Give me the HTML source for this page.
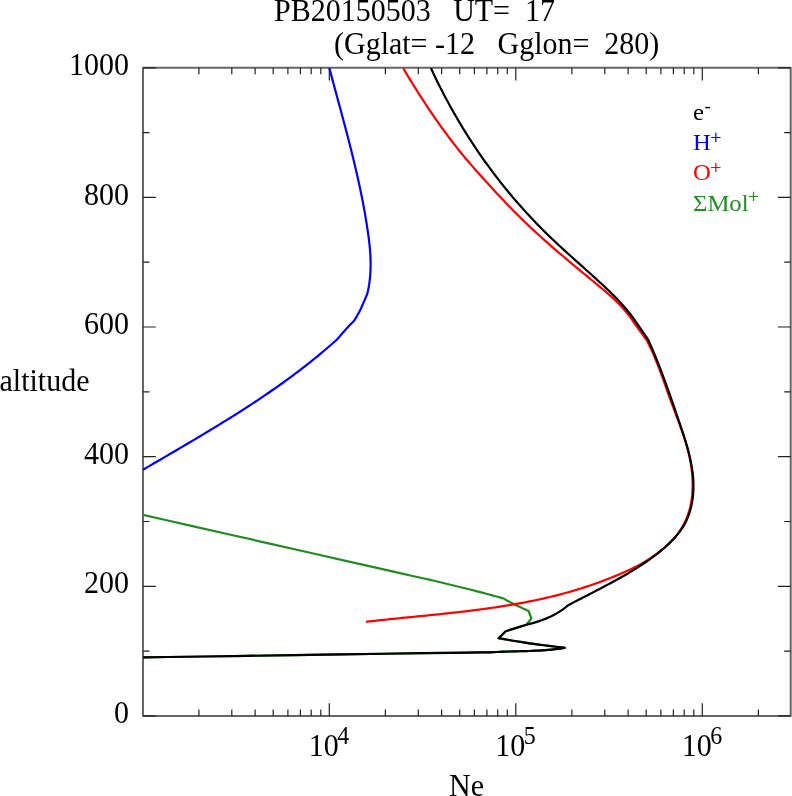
<!DOCTYPE html>
<html><head><meta charset="utf-8"><style>
html,body{margin:0;padding:0;background:#fff;overflow:hidden}
svg{display:block;will-change:transform}
text{font-family:"Liberation Serif",serif;font-size:30px;fill:#000}
</style></head><body>
<svg width="792" height="796" viewBox="0 0 792 796">
<rect width="792" height="796" fill="#fff"/>
<path d="M143.0 715.9 V67.8 H790.7 V715.9 Z" stroke="#666" stroke-width="2" fill="none" stroke-linejoin="round"/>
<path d="M143.0 715.9h12.8 M790.7 715.9h-12.8 M143.0 651.1h6.5 M790.7 651.1h-6.5 M143.0 586.3h12.8 M790.7 586.3h-12.8 M143.0 521.5h6.5 M790.7 521.5h-6.5 M143.0 456.7h12.8 M790.7 456.7h-12.8 M143.0 391.8h6.5 M790.7 391.8h-6.5 M143.0 327.0h12.8 M790.7 327.0h-12.8 M143.0 262.2h6.5 M790.7 262.2h-6.5 M143.0 197.4h12.8 M790.7 197.4h-12.8 M143.0 132.6h6.5 M790.7 132.6h-6.5 M143.0 67.8h12.8 M790.7 67.8h-12.8 M198.9 715.9v-6.5 M198.9 67.8v6.5 M231.8 715.9v-6.5 M231.8 67.8v6.5 M255.1 715.9v-6.5 M255.1 67.8v6.5 M273.2 715.9v-6.5 M273.2 67.8v6.5 M287.9 715.9v-6.5 M287.9 67.8v6.5 M300.4 715.9v-6.5 M300.4 67.8v6.5 M311.2 715.9v-6.5 M311.2 67.8v6.5 M320.8 715.9v-6.5 M320.8 67.8v6.5 M329.3 715.9v-12.7 M329.3 67.8v12.7 M385.4 715.9v-6.5 M385.4 67.8v6.5 M418.3 715.9v-6.5 M418.3 67.8v6.5 M441.6 715.9v-6.5 M441.6 67.8v6.5 M459.7 715.9v-6.5 M459.7 67.8v6.5 M474.4 715.9v-6.5 M474.4 67.8v6.5 M486.9 715.9v-6.5 M486.9 67.8v6.5 M497.7 715.9v-6.5 M497.7 67.8v6.5 M507.3 715.9v-6.5 M507.3 67.8v6.5 M515.8 715.9v-12.7 M515.8 67.8v12.7 M571.9 715.9v-6.5 M571.9 67.8v6.5 M604.8 715.9v-6.5 M604.8 67.8v6.5 M628.1 715.9v-6.5 M628.1 67.8v6.5 M646.2 715.9v-6.5 M646.2 67.8v6.5 M660.9 715.9v-6.5 M660.9 67.8v6.5 M673.4 715.9v-6.5 M673.4 67.8v6.5 M684.2 715.9v-6.5 M684.2 67.8v6.5 M693.8 715.9v-6.5 M693.8 67.8v6.5 M702.3 715.9v-12.7 M702.3 67.8v12.7 M758.4 715.9v-6.5 M758.4 67.8v6.5" stroke="#222" stroke-width="1.2" fill="none"/>
<path d="M143.10 514.90 L164.47 519.74 L194.58 526.56 L230.59 534.73 L269.68 543.58 L308.99 552.49 L345.71 560.81 L376.99 567.89 L400.00 573.10 L414.81 576.45 L424.16 578.55 L429.19 579.68 L431.06 580.09 L430.92 580.04 L429.93 579.80 L429.24 579.64 L430.00 579.80 L433.08 580.53 L436.16 581.26 L439.24 581.99 L442.31 582.73 L445.39 583.47 L448.47 584.21 L451.54 584.96 L454.62 585.71 L457.69 586.46 L460.76 587.22 L463.83 587.98 L466.90 588.75 L469.97 589.52 L473.04 590.30 L476.10 591.09 L479.17 591.88 L482.23 592.68 L485.29 593.49 L488.34 594.30 L491.40 595.13 L494.45 595.96 L497.50 596.80 L500.55 597.64 L503.60 598.50 L504.26 598.88 L505.08 599.36 L506.05 599.94 L507.16 600.59 L508.39 601.29 L509.73 602.04 L511.17 602.82 L512.70 603.60 L514.47 604.47 L516.57 605.46 L518.86 606.53 L521.22 607.62 L523.50 608.67 L525.58 609.62 L527.33 610.41 L528.60 611.00 L531.40 618.50 L526.40 624.70 L505.70 631.20 L498.60 638.20 L500.95 638.60 L504.03 639.13 L507.70 639.77 L511.79 640.47 L516.17 641.21 L520.66 641.95 L525.12 642.66 L529.40 643.30 L533.84 643.92 L538.74 644.57 L543.86 645.23 L548.97 645.87 L553.85 646.47 L558.25 647.01 L561.95 647.46 L564.70 647.80 L561.48 648.33 L558.25 648.79 L555.02 649.20 L551.78 649.56 L548.54 649.87 L545.30 650.14 L542.05 650.36 L538.80 650.56 L535.55 650.72 L532.30 650.86 L529.05 650.98 L525.79 651.08 L522.54 651.17 L519.28 651.25 L516.03 651.33 L512.77 651.41 L509.51 651.50 L506.26 651.60 L503.00 651.71 L499.75 651.84 L496.50 652.00 L493.25 652.18 L490.00 652.40 L488.74 652.40 L489.07 652.37 L489.66 652.34 L489.18 652.31 L486.31 652.32 L479.70 652.40 L468.05 652.55 L450.00 652.80 L422.31 653.21 L384.85 653.76 L340.97 654.42 L294.05 655.12 L247.44 655.83 L204.50 656.48 L168.60 657.02 L143.10 657.40" stroke="#228b22" stroke-width="2.2" fill="none" stroke-linejoin="round"/>
<path d="M329.40 68.20 L330.19 71.17 L330.98 74.15 L331.77 77.12 L332.57 80.09 L333.37 83.06 L334.17 86.03 L334.97 89.00 L335.77 91.97 L336.58 94.95 L337.38 97.92 L338.19 100.89 L338.99 103.86 L339.80 106.83 L340.60 109.80 L341.40 112.77 L342.20 115.75 L343.00 118.72 L343.79 121.70 L344.58 124.67 L345.37 127.65 L346.16 130.62 L346.94 133.60 L347.71 136.58 L348.49 139.56 L349.25 142.54 L350.01 145.52 L350.77 148.50 L351.52 151.49 L352.26 154.48 L352.99 157.46 L353.72 160.45 L354.44 163.45 L355.15 166.44 L355.85 169.43 L356.55 172.43 L357.23 175.43 L357.91 178.43 L358.57 181.44 L359.23 184.44 L359.87 187.45 L360.50 190.46 L361.12 193.47 L361.73 196.49 L362.33 199.51 L362.91 202.53 L363.49 205.55 L364.04 208.58 L364.59 211.61 L365.12 214.64 L365.63 217.68 L366.14 220.71 L366.63 223.75 L367.10 226.80 L367.56 229.84 L368.01 232.88 L368.44 235.93 L368.84 238.98 L369.22 242.03 L369.55 245.09 L369.85 248.15 L370.10 251.22 L370.31 254.28 L370.46 257.36 L370.56 260.43 L370.61 263.50 L370.60 266.58 L370.52 269.65 L370.38 272.72 L370.16 275.79 L369.88 278.85 L369.51 281.91 L369.06 284.95 L368.53 287.98 L367.91 291.00 L367.20 294.00 L366.65 295.27 L365.92 297.00 L365.04 299.07 L364.07 301.34 L363.05 303.70 L362.04 306.01 L361.07 308.15 L360.20 310.00 L359.37 311.65 L358.51 313.26 L357.65 314.80 L356.81 316.25 L356.03 317.57 L355.33 318.74 L354.75 319.73 L354.30 320.50 L353.61 321.21 L352.70 322.15 L351.60 323.28 L350.39 324.53 L349.12 325.85 L347.84 327.18 L346.62 328.49 L345.50 329.70 L344.42 330.91 L343.28 332.22 L342.12 333.55 L341.00 334.87 L339.94 336.12 L339.00 337.25 L338.20 338.19 L337.60 338.90 L335.33 340.95 L333.05 342.98 L330.75 345.00 L328.45 347.00 L326.14 348.99 L323.81 350.97 L321.48 352.93 L319.14 354.88 L316.78 356.82 L314.42 358.75 L312.05 360.66 L309.67 362.56 L307.28 364.45 L304.88 366.33 L302.47 368.20 L300.06 370.05 L297.63 371.90 L295.20 373.73 L292.76 375.55 L290.31 377.37 L287.86 379.17 L285.40 380.96 L282.92 382.74 L280.45 384.51 L277.96 386.28 L275.47 388.03 L272.97 389.77 L270.47 391.51 L267.96 393.23 L265.44 394.95 L262.92 396.66 L260.39 398.36 L257.85 400.06 L255.31 401.74 L252.76 403.42 L250.21 405.09 L247.66 406.75 L245.10 408.41 L242.53 410.06 L239.96 411.70 L237.38 413.34 L234.81 414.97 L232.22 416.60 L229.63 418.22 L227.04 419.83 L224.45 421.44 L221.85 423.04 L219.25 424.64 L216.64 426.23 L214.04 427.82 L211.43 429.40 L208.81 430.98 L206.20 432.56 L203.58 434.13 L200.96 435.70 L198.34 437.27 L195.71 438.83 L193.09 440.39 L190.46 441.94 L187.83 443.50 L185.20 445.05 L182.57 446.60 L179.94 448.14 L177.31 449.69 L174.68 451.23 L172.04 452.77 L169.41 454.32 L166.78 455.86 L164.14 457.39 L161.51 458.93 L158.88 460.47 L156.25 462.01 L153.61 463.55 L150.98 465.08 L148.35 466.62 L145.73 468.16 L143.10 469.70" stroke="#0000ff" stroke-width="2.2" fill="none" stroke-linejoin="round"/>
<path d="M403.20 68.20 L404.75 70.80 L406.31 73.40 L407.87 76.00 L409.45 78.59 L411.03 81.18 L412.62 83.76 L414.23 86.34 L415.84 88.92 L417.46 91.49 L419.09 94.05 L420.73 96.61 L422.37 99.16 L424.03 101.71 L425.70 104.25 L427.38 106.78 L429.07 109.31 L430.77 111.83 L432.48 114.34 L434.20 116.84 L435.93 119.34 L437.67 121.83 L439.43 124.31 L441.19 126.78 L442.97 129.24 L444.76 131.69 L446.56 134.13 L448.37 136.56 L450.19 138.99 L452.03 141.40 L453.88 143.80 L455.74 146.19 L457.61 148.57 L459.50 150.94 L461.40 153.29 L463.32 155.63 L465.26 157.96 L467.21 160.27 L469.18 162.57 L471.17 164.85 L473.17 167.13 L475.18 169.40 L477.19 171.66 L479.22 173.91 L481.25 176.17 L483.28 178.42 L485.31 180.68 L487.35 182.93 L489.39 185.18 L491.43 187.42 L493.48 189.66 L495.54 191.90 L497.60 194.13 L499.67 196.35 L501.75 198.57 L503.83 200.78 L505.93 202.98 L508.03 205.17 L510.14 207.35 L512.26 209.53 L514.39 211.69 L516.53 213.84 L518.68 215.98 L520.84 218.11 L523.02 220.23 L525.20 222.33 L527.40 224.43 L529.60 226.51 L531.82 228.58 L534.04 230.64 L536.27 232.70 L538.51 234.74 L540.76 236.78 L543.02 238.81 L545.29 240.82 L547.56 242.84 L549.84 244.84 L552.12 246.84 L554.41 248.82 L556.71 250.81 L559.02 252.79 L561.32 254.76 L563.64 256.72 L565.96 258.68 L568.28 260.64 L570.60 262.59 L572.93 264.54 L575.27 266.48 L577.60 268.42 L579.94 270.36 L582.28 272.30 L584.63 274.23 L586.97 276.16 L589.32 278.09 L591.67 280.02 L594.01 281.95 L596.36 283.87 L598.70 285.80 L601.04 287.74 L603.37 289.69 L605.68 291.66 L607.97 293.64 L610.23 295.65 L612.47 297.69 L614.68 299.76 L616.85 301.87 L618.99 304.01 L621.08 306.20 L623.12 308.44 L625.12 310.73 L627.05 313.08 L628.93 315.49 L630.75 317.96 L632.50 320.50 L646.60 340.00 L648.00 342.70 L649.35 345.42 L650.65 348.16 L651.92 350.90 L653.15 353.67 L654.34 356.44 L655.50 359.22 L656.63 362.02 L657.74 364.82 L658.82 367.64 L659.88 370.46 L660.93 373.28 L661.96 376.12 L662.98 378.95 L664.00 381.80 L665.00 384.64 L666.01 387.49 L667.02 390.33 L668.03 393.18 L669.05 396.02 L670.09 398.87 L671.13 401.71 L672.19 404.54 L673.25 407.38 L674.33 410.22 L675.40 413.05 L676.47 415.89 L677.54 418.73 L678.60 421.57 L679.65 424.41 L680.68 427.26 L681.69 430.12 L682.68 432.98 L683.64 435.85 L684.58 438.73 L685.48 441.62 L686.34 444.53 L687.17 447.44 L687.95 450.36 L688.68 453.30 L689.36 456.26 L689.98 459.23 L690.55 462.21 L691.06 465.22 L691.50 468.24 L691.87 471.28 L692.18 474.32 L692.41 477.38 L692.56 480.43 L692.64 483.49 L692.63 486.54 L692.54 489.58 L692.36 492.62 L692.10 495.63 L691.74 498.63 L691.28 501.60 L690.73 504.54 L690.08 507.46 L689.32 510.34 L688.46 513.18 L687.49 515.98 L686.40 518.73 L685.21 521.43 L683.89 524.08 L682.46 526.67 L680.91 529.20 L679.26 531.67 L677.50 534.09 L675.65 536.44 L673.70 538.72 L671.68 540.95 L669.58 543.11 L667.40 545.21 L665.17 547.24 L662.88 549.21 L660.53 551.12 L658.13 552.96 L655.68 554.75 L653.18 556.49 L650.64 558.17 L648.05 559.80 L645.43 561.38 L642.78 562.91 L640.09 564.40 L637.38 565.85 L634.64 567.25 L631.87 568.62 L629.09 569.95 L626.29 571.24 L623.47 572.51 L620.65 573.74 L617.82 574.94 L614.98 576.12 L612.14 577.28 L609.30 578.41 L606.45 579.52 L603.61 580.60 L600.76 581.67 L597.91 582.71 L595.05 583.72 L592.20 584.72 L589.34 585.69 L586.47 586.65 L583.61 587.58 L580.74 588.49 L577.86 589.38 L574.99 590.25 L572.11 591.11 L569.22 591.94 L566.33 592.75 L563.44 593.54 L560.54 594.32 L557.64 595.08 L554.73 595.81 L551.81 596.54 L548.90 597.24 L545.97 597.93 L543.04 598.59 L540.11 599.25 L537.17 599.88 L534.23 600.51 L531.28 601.11 L528.32 601.70 L525.36 602.28 L522.40 602.84 L519.43 603.39 L516.46 603.92 L513.49 604.44 L510.51 604.95 L507.53 605.45 L504.54 605.93 L501.55 606.40 L498.56 606.86 L495.56 607.31 L492.56 607.75 L489.56 608.18 L486.56 608.60 L483.55 609.01 L480.55 609.42 L477.54 609.81 L474.52 610.19 L471.51 610.57 L468.49 610.94 L465.48 611.30 L462.46 611.66 L459.44 612.01 L456.42 612.35 L453.40 612.69 L450.37 613.02 L447.35 613.35 L444.33 613.68 L441.31 614.00 L438.28 614.31 L435.26 614.63 L432.24 614.94 L429.21 615.24 L426.19 615.55 L423.17 615.85 L420.15 616.16 L417.13 616.46 L414.11 616.76 L411.09 617.06 L408.08 617.36 L405.07 617.66 L402.05 617.96 L399.04 618.27 L396.03 618.57 L393.03 618.88 L390.02 619.19 L387.02 619.50 L384.03 619.82 L381.03 620.14 L378.04 620.46 L375.05 620.79 L372.06 621.12 L369.08 621.46 L366.10 621.80" stroke="#ff0000" stroke-width="2.2" fill="none" stroke-linejoin="round"/>
<path d="M431.00 68.20 L432.27 70.96 L433.56 73.71 L434.86 76.45 L436.18 79.19 L437.51 81.92 L438.86 84.65 L440.22 87.37 L441.60 90.08 L442.99 92.78 L444.39 95.48 L445.81 98.17 L447.24 100.85 L448.69 103.52 L450.15 106.19 L451.63 108.85 L453.12 111.50 L454.63 114.14 L456.15 116.78 L457.68 119.41 L459.23 122.03 L460.79 124.64 L462.36 127.24 L463.95 129.83 L465.56 132.42 L467.18 135.00 L468.81 137.56 L470.45 140.12 L472.11 142.68 L473.79 145.22 L475.47 147.75 L477.17 150.27 L478.89 152.79 L480.62 155.29 L482.36 157.79 L484.11 160.28 L485.88 162.75 L487.67 165.22 L489.46 167.68 L491.27 170.12 L493.09 172.56 L494.93 174.99 L496.78 177.40 L498.64 179.81 L500.52 182.21 L502.41 184.59 L504.31 186.97 L506.23 189.33 L508.16 191.68 L510.10 194.03 L512.05 196.36 L514.02 198.68 L516.00 200.99 L517.99 203.29 L520.00 205.58 L522.02 207.85 L524.05 210.12 L526.10 212.37 L528.16 214.61 L530.23 216.84 L532.31 219.06 L534.41 221.26 L536.51 223.45 L538.64 225.64 L540.77 227.81 L542.92 229.96 L545.07 232.11 L547.25 234.24 L549.43 236.36 L551.62 238.46 L553.83 240.56 L556.05 242.65 L558.27 244.72 L560.51 246.79 L562.75 248.85 L564.99 250.90 L567.25 252.95 L569.51 254.99 L571.77 257.03 L574.03 259.06 L576.30 261.09 L578.57 263.12 L580.84 265.15 L583.11 267.18 L585.38 269.20 L587.64 271.23 L589.90 273.27 L592.16 275.30 L594.42 277.34 L596.67 279.39 L598.91 281.44 L601.14 283.50 L603.37 285.56 L605.58 287.64 L607.78 289.73 L609.97 291.83 L612.13 293.96 L614.27 296.10 L616.39 298.27 L618.49 300.46 L620.55 302.68 L622.58 304.93 L624.58 307.22 L626.55 309.53 L628.48 311.89 L630.36 314.28 L632.20 316.72 L634.00 319.20 L648.00 339.40 L649.27 342.20 L650.52 345.01 L651.75 347.81 L652.96 350.62 L654.15 353.44 L655.32 356.25 L656.47 359.07 L657.61 361.89 L658.73 364.71 L659.83 367.54 L660.92 370.37 L662.00 373.20 L663.07 376.03 L664.12 378.87 L665.16 381.72 L666.20 384.56 L667.22 387.41 L668.24 390.27 L669.25 393.13 L670.26 395.99 L671.26 398.85 L672.25 401.73 L673.25 404.60 L674.24 407.48 L675.23 410.36 L676.22 413.25 L677.20 416.15 L678.20 419.05 L679.19 421.95 L680.18 424.86 L681.17 427.77 L682.15 430.69 L683.11 433.61 L684.06 436.54 L684.99 439.48 L685.89 442.42 L686.76 445.36 L687.60 448.32 L688.39 451.27 L689.15 454.23 L689.86 457.20 L690.52 460.18 L691.12 463.16 L691.67 466.14 L692.15 469.13 L692.56 472.13 L692.90 475.13 L693.17 478.14 L693.35 481.15 L693.45 484.17 L693.46 487.20 L693.38 490.23 L693.21 493.27 L692.93 496.32 L692.54 499.36 L692.05 502.40 L691.45 505.43 L690.73 508.43 L689.90 511.39 L688.96 514.31 L687.89 517.18 L686.69 519.98 L685.38 522.71 L683.93 525.36 L682.36 527.93 L680.66 530.41 L678.86 532.82 L676.96 535.15 L674.98 537.42 L672.92 539.63 L670.79 541.78 L668.60 543.88 L666.37 545.94 L664.10 547.96 L661.79 549.93 L659.45 551.87 L657.07 553.77 L654.67 555.64 L652.23 557.47 L649.76 559.27 L647.27 561.04 L644.75 562.77 L642.21 564.48 L639.65 566.16 L637.06 567.82 L634.46 569.44 L631.84 571.05 L629.20 572.63 L626.55 574.19 L623.89 575.73 L621.22 577.25 L618.53 578.76 L615.84 580.25 L613.15 581.72 L610.44 583.18 L607.74 584.63 L605.03 586.07 L602.33 587.50 L599.62 588.92 L596.92 590.33 L594.23 591.73 L591.54 593.14 L588.85 594.53 L586.17 595.92 L583.48 597.31 L580.80 598.68 L578.10 600.05 L575.40 601.40 L567.80 605.50 L565.26 607.61 L562.63 609.59 L559.91 611.43 L557.11 613.15 L554.24 614.75 L551.30 616.23 L548.31 617.61 L545.26 618.88 L542.18 620.06 L539.06 621.14 L535.91 622.14 L532.75 623.07 L529.58 623.92 L526.40 624.70 L505.70 631.20 L498.60 638.20 L500.95 638.60 L504.03 639.13 L507.70 639.77 L511.79 640.47 L516.17 641.21 L520.66 641.95 L525.12 642.66 L529.40 643.30 L533.84 643.92 L538.74 644.57 L543.86 645.23 L548.97 645.87 L553.85 646.47 L558.25 647.01 L561.95 647.46 L564.70 647.80 L561.48 648.33 L558.25 648.79 L555.02 649.20 L551.78 649.56 L548.54 649.87 L545.30 650.14 L542.05 650.36 L538.80 650.56 L535.55 650.72 L532.30 650.86 L529.05 650.98 L525.79 651.08 L522.54 651.17 L519.28 651.25 L516.03 651.33 L512.77 651.41 L509.51 651.50 L506.26 651.60 L503.00 651.71 L499.75 651.84 L496.50 652.00 L493.25 652.18 L490.00 652.40 L488.74 652.40 L489.07 652.37 L489.66 652.34 L489.18 652.31 L486.31 652.32 L479.70 652.40 L468.05 652.55 L450.00 652.80 L422.31 653.21 L384.85 653.76 L340.97 654.42 L294.05 655.12 L247.44 655.83 L204.50 656.48 L168.60 657.02 L143.10 657.40" stroke="#000" stroke-width="2.2" fill="none" stroke-linejoin="round"/>
<text x="129" y="723.1" transform="matrix(1 0 0 1.05 0 -36.155)" text-anchor="end">0</text><text x="129" y="593.5" transform="matrix(1 0 0 1.05 0 -29.674)" text-anchor="end">200</text><text x="129" y="463.9" transform="matrix(1 0 0 1.05 0 -23.193)" text-anchor="end">400</text><text x="129" y="334.2" transform="matrix(1 0 0 1.05 0 -16.712)" text-anchor="end">600</text><text x="129" y="204.6" transform="matrix(1 0 0 1.05 0 -10.231)" text-anchor="end">800</text><text x="129" y="75.0" transform="matrix(1 0 0 1.05 0 -3.750)" text-anchor="end">1000</text>
<text x="308.8" y="756" transform="matrix(1 0 0 1.05 0 -37.800)">10<tspan style="font-size:24px" dx="-1.5" dy="-11.5">4</tspan></text><text x="495.3" y="756" transform="matrix(1 0 0 1.05 0 -37.800)">10<tspan style="font-size:24px" dx="-1.5" dy="-11.5">5</tspan></text><text x="681.8" y="756" transform="matrix(1 0 0 1.05 0 -37.800)">10<tspan style="font-size:24px" dx="-1.5" dy="-11.5">6</tspan></text>
<text x="274" y="21" transform="matrix(1 0 0 1.05 0 -1.050)" xml:space="preserve">PB20150503   UT=  17</text>
<text x="334" y="54.3" transform="matrix(1 0 0 1.05 0 -2.715)" xml:space="preserve">(Gglat= -12   Gglon=  280)</text>
<text x="-0.5" y="391" transform="matrix(1 0 0 1.05 0 -19.550)">altitude</text>
<text x="449" y="796" transform="matrix(1 0 0 1.05 0 -39.800)">Ne</text>
<g transform="matrix(1.03 0 0 1 -20.79 0)">
<text x="693" y="120.3" style="font-size:24px">e<tspan style="font-size:18px" dy="-8" dx="0.5">-</tspan></text>
<text x="693" y="150.2" style="font-size:24px;fill:#0000ff">H<tspan style="font-size:19px;stroke:#0000ff;stroke-width:0.25" dx="-0.5" dy="-6.5">+</tspan></text>
<text x="693" y="180.5" style="font-size:24px;fill:#ff0000">O<tspan style="font-size:19px;stroke:#ff0000;stroke-width:0.25" dx="-0.5" dy="-6.5">+</tspan></text>
<text x="693" y="210.7" style="font-size:24px;fill:#228b22">ΣMol<tspan style="font-size:19px;stroke:#228b22;stroke-width:0.25" dx="-0.5" dy="-7.5">+</tspan></text>
</g>
</svg>
</body></html>
